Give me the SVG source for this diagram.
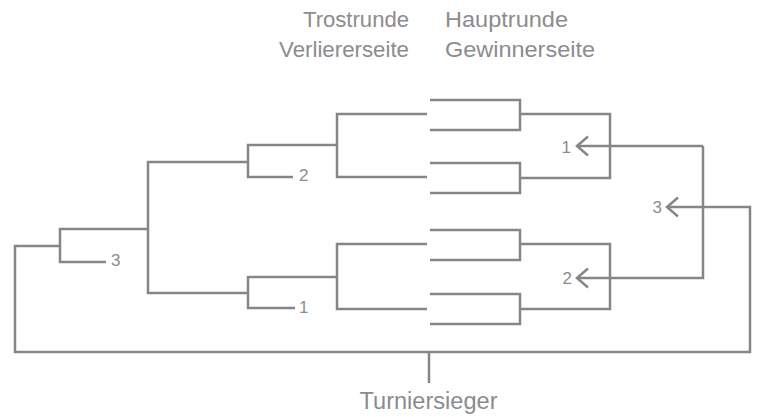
<svg xmlns="http://www.w3.org/2000/svg" width="757" height="417" viewBox="0 0 757 417">
<style>
.ln{fill:none;stroke:#86868a;stroke-width:2.5;stroke-linejoin:miter;stroke-linecap:butt}
.t{font-family:"Liberation Sans",Arial,sans-serif;fill:#8c8c8e}
.h{font-size:22px}
.n{font-size:17px}
</style>
<defs>
<marker id="arr" markerUnits="userSpaceOnUse" viewBox="-14 -12 16 24" markerWidth="16" markerHeight="24" refX="0" refY="0" orient="auto" overflow="visible">
<path d="M-11,-9.5 L0,0 L-11,9.5" fill="none" stroke="#86868a" stroke-width="2.5"/>
</marker>
</defs>
<rect width="757" height="417" fill="#ffffff"/>
<g id="headers">
<text class="t h" x="409" y="27" text-anchor="end" textLength="106" lengthAdjust="spacingAndGlyphs">Trostrunde</text>
<text class="t h" x="409" y="57" text-anchor="end" textLength="130" lengthAdjust="spacingAndGlyphs">Verliererseite</text>
<text class="t h" x="445" y="27" textLength="123" lengthAdjust="spacingAndGlyphs">Hauptrunde</text>
<text class="t h" x="445" y="57" textLength="150" lengthAdjust="spacingAndGlyphs">Gewinnerseite</text>
</g>
<g id="connectors">
<path class="ln" d="M430,100 H520 V130 H430"/>
<path class="ln" d="M520,114 H610 V178 H520"/>
<path class="ln" d="M430,163 H520 V193 H430"/>
<path class="ln" d="M430,230 H520 V260 H430"/>
<path class="ln" d="M520,244 H610 V309 H520"/>
<path class="ln" d="M430,294 H520 V324 H430"/>
<path class="ln" d="M703,146 H577" marker-end="url(#arr)"/>
<path class="ln" d="M703,146 V278 H577" marker-end="url(#arr)"/>
<path class="ln" d="M60,246 H15 V352 H750 V207 H667" marker-end="url(#arr)"/>
<path class="ln" d="M429,352 V383"/>
<path class="ln" d="M427,114 H337 V177 H427"/>
<path class="ln" d="M337,145 H248 V177 H293"/>
<path class="ln" d="M248,162 H148 V293 H248"/>
<path class="ln" d="M427,244 H337 V309 H427"/>
<path class="ln" d="M337,277 H248 V308 H295"/>
<path class="ln" d="M148,229 H60 V262 H106"/>
</g>
<g id="labels">
<text class="t n" x="571" y="153" text-anchor="end">1</text>
<text class="t n" x="572" y="284" text-anchor="end">2</text>
<text class="t n" x="662" y="213" text-anchor="end">3</text>
<text class="t n" x="299" y="181">2</text>
<text class="t n" x="299" y="313">1</text>
<text class="t n" x="111" y="266">3</text>
</g>
<g id="winner">
<text class="t" x="428.5" y="409" font-size="23" text-anchor="middle" textLength="138" lengthAdjust="spacingAndGlyphs">Turniersieger</text>
</g>
</svg>
